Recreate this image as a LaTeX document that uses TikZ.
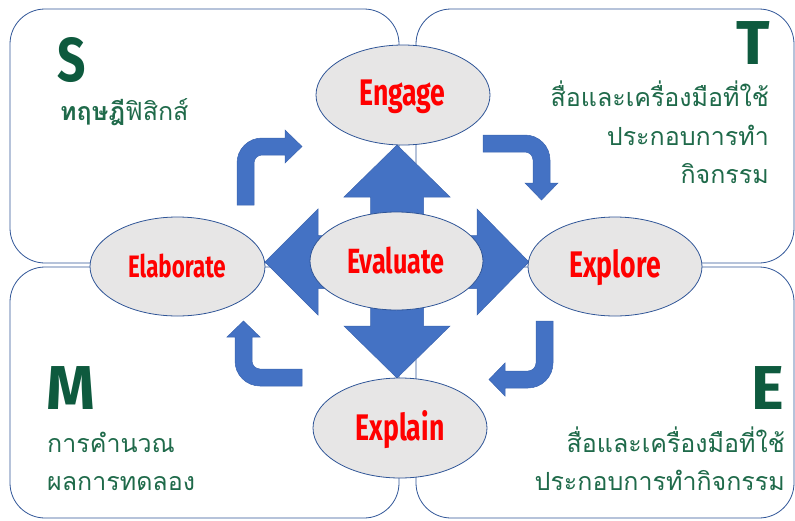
\documentclass[tikz,border=0pt]{standalone}
\usepackage{fontspec}
\newfontfamily\thaifont[Script=Thai]{Loma}
\newfontfamily\condfont[FakeStretch=0.72]{Fira Sans}
\newfontfamily\letterfont{Fira Sans}
\definecolor{arrowblue}{HTML}{4472C4}
\definecolor{arrowedge}{HTML}{3A64B0}
\definecolor{boxedge}{HTML}{2F5597}
\definecolor{ellfill}{HTML}{E7E6E6}
\definecolor{lettergreen}{HTML}{0E5A3E}
\definecolor{textgreen}{HTML}{1F6A4A}
\tikzset{
  quadbox/.style={draw=boxedge, line width=0.8pt, rounded corners=35pt},
  blockarrow/.style={fill=arrowblue, draw=arrowedge, line width=0.5pt},
  phase/.style={ellipse, draw=boxedge, fill=ellfill, line width=0.8pt, inner sep=0pt},
  phasetext/.style={text=red, font=\condfont\bfseries\fontsize{37}{40}\selectfont, inner sep=0pt},
  bigletter/.style={text=lettergreen, font=\letterfont\bfseries\fontsize{62}{62}\selectfont, inner sep=0pt},
  thaitext/.style={text=textgreen, font=\thaifont\fontsize{25}{28}\selectfont, inner sep=0pt}
}
\usetikzlibrary{shapes.geometric}
\begin{document}
\begin{tikzpicture}[x=1pt, y=-1pt]
\useasboundingbox (0,0) rectangle (795,520);
% quadrant boxes
\draw[quadbox] (10,9) rectangle (399,263);
\draw[quadbox] (416,9) rectangle (794,263);
\draw[quadbox] (10,267) rectangle (399,518);
\draw[quadbox] (416,267) rectangle (794,518);

% bent arrows
\draw[blockarrow] (237,205) -- (237,163) arc[start angle=180, end angle=270, radius=25]
  -- (285,138) -- (285,130) -- (302,146.5) -- (285,163) -- (285,155) -- (262,155)
  arc[start angle=270, end angle=180, radius=8] -- (254,205) -- cycle;
\draw[blockarrow] (483,135) -- (525,135) arc[start angle=270, end angle=360, radius=25]
  -- (550,183) -- (558,183) -- (541.5,200) -- (525,183) -- (533,183) -- (533,160)
  arc[start angle=0, end angle=-90, radius=8] -- (483,152) -- cycle;
\draw[blockarrow] (553,321) -- (553,363) arc[start angle=0, end angle=90, radius=25]
  -- (505,388) -- (505,396) -- (489,379.5) -- (505,363) -- (505,371) -- (528,371)
  arc[start angle=90, end angle=0, radius=8] -- (536,321) -- cycle;
\draw[blockarrow] (302,386) -- (260,386) arc[start angle=90, end angle=180, radius=25]
  -- (235,337) -- (227,337) -- (243.5,321) -- (260,337) -- (252,337) -- (252,361)
  arc[start angle=180, end angle=90, radius=8] -- (302,369) -- cycle;

% four-way arrow
\draw[blockarrow] (397,145) -- (450,197) -- (423.5,197) -- (423.5,235.5) -- (477,235.5)
  -- (477,209) -- (529,262) -- (477,315) -- (477,288.5) -- (423.5,288.5) -- (423.5,326)
  -- (450,326) -- (397,378) -- (344,326) -- (370.5,326) -- (370.5,288.5) -- (318,288.5)
  -- (318,315) -- (265,262) -- (318,209) -- (318,235.5) -- (370.5,235.5) -- (370.5,197)
  -- (344,197) -- cycle;

% phase ellipses
\node[phase, minimum width=174pt, minimum height=100pt] (engage) at (403,95) {};
\node[phase, minimum width=173pt, minimum height=98pt] (evaluate) at (396.5,261) {};
\node[phase, minimum width=175pt, minimum height=99pt] (elaborate) at (177.5,266.5) {};
\node[phase, minimum width=174pt, minimum height=99pt] (explore) at (615,266.5) {};
\node[phase, minimum width=174pt, minimum height=100pt] (explain) at (400,428) {};

\node[phasetext] (tengage) at (402.5,97) {Engage};
\node[phasetext, font=\condfont\bfseries\fontsize{35}{38}\selectfont] (tevaluate) at (396,261) {Evaluate};
\node[phasetext, font=\condfont\bfseries\fontsize{31}{34}\selectfont] (telaborate) at (177,266) {Elaborate};
\node[phasetext] (texplore) at (615,268) {Explore};
\node[phasetext] (texplain) at (400,430) {Explain};

% STEM letters
\node[bigletter, xscale=0.8] (S) at (71.5,60) {S};
\node[bigletter] (T) at (753,43) {T};
\node[bigletter] (M) at (71,388.5) {M};
\node[bigletter] (E) at (767.5,388.5) {E};

% Thai texts
\node[thaitext, anchor=base west] (s1) at (60,120) {{\bfseries ทฤษฎี}ฟิสิกส์};
\node[thaitext, anchor=base east] (t1) at (769,106) {สื่อและเครื่องมือที่ใช้};
\node[thaitext, anchor=base east] (t2) at (769,145) {ประกอบการทำ};
\node[thaitext, anchor=base east] (t3) at (769,183) {กิจกรรม};
\node[thaitext, anchor=base west] (m1) at (47,452) {การคำนวณ};
\node[thaitext, anchor=base west] (m2) at (47,490) {ผลการทดลอง};
\node[thaitext, anchor=base east] (e1) at (785,452) {สื่อและเครื่องมือที่ใช้};
\node[thaitext, anchor=base east] (e2) at (785,490) {ประกอบการทำกิจกรรม};
\end{tikzpicture}
\end{document}
